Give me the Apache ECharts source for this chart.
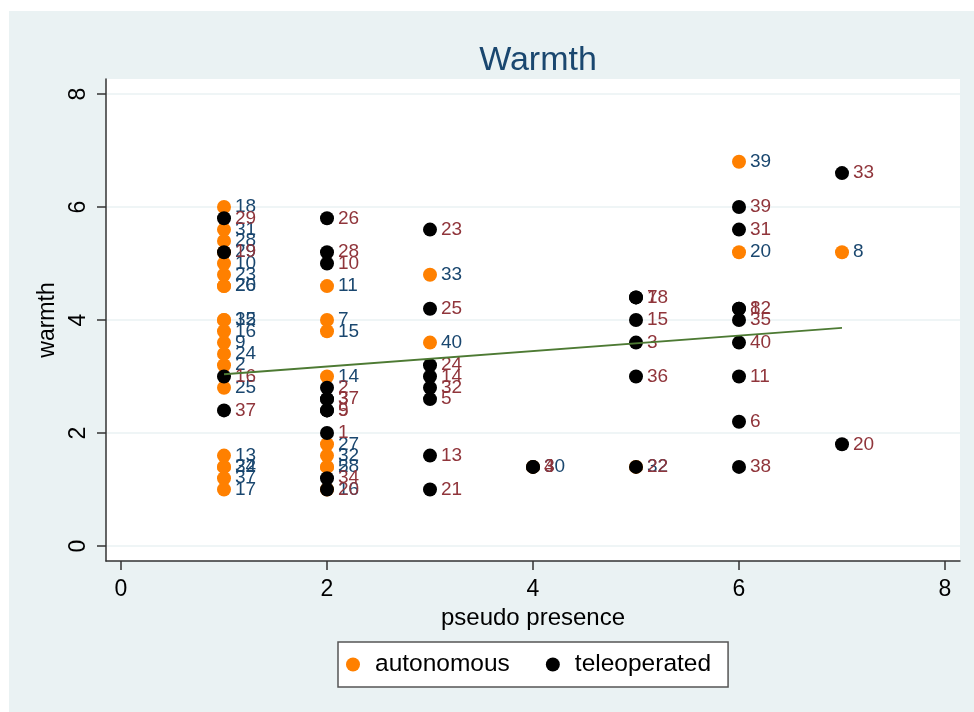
<!DOCTYPE html>
<html>
<head>
<meta charset="utf-8">
<script src="https://cdn.jsdelivr.net/npm/echarts@6/dist/echarts.min.js"></script>
<style>
html,body{margin:0;padding:0;background:#ffffff;}
#chart{width:974px;height:712px;}
</style>
</head>
<body>
<div id="chart"></div>
<script>
// ---- data ----
var titleText = 'Warmth';
var xTitle = 'pseudo presence';
var yTitle = 'warmth';
var xTicks = [0, 2, 4, 6, 8];
var yTicks = [0, 2, 4, 6, 8];
var seriesNames = ['autonomous', 'teleoperated'];

// [x, y, label]
var autonomousPoints = [
  [1, 6.0, '18'], [1, 5.6, '31'], [1, 5.4, '28'], [1, 5.2, '29'], [1, 5.0, '10'],
  [1, 4.8, '23'], [1, 4.6, '26'], [1, 4.6, '20'], [1, 4.0, '35'], [1, 4.0, '12'],
  [1, 3.8, '16'], [1, 3.6, '9'], [1, 3.4, '24'], [1, 3.2, '2'], [1, 2.8, '25'],
  [1, 1.6, '13'], [1, 1.4, '22'], [1, 1.4, '34'], [1, 1.2, '37'], [1, 1.0, '17'],
  [2, 4.6, '11'], [2, 4.0, '7'], [2, 3.8, '15'], [2, 3.0, '14'], [2, 1.8, '27'],
  [2, 1.6, '32'], [2, 1.4, '28'], [2, 1.4, '5'], [2, 1.0, '16'],
  [3, 4.8, '33'], [3, 3.6, '40'],
  [4, 1.4, '30'],
  [5, 1.4, '32'],
  [6, 6.8, '39'], [6, 5.2, '20'],
  [7, 5.2, '8']
];
var teleoperatedPoints = [
  [1, 5.8, '29'], [1, 5.2, '19'], [1, 3.0, '16'], [1, 2.4, '37'],
  [2, 5.8, '26'], [2, 5.2, '28'], [2, 5.0, '10'], [2, 2.8, '2'], [2, 2.6, '37'],
  [2, 2.6, '3'], [2, 2.4, '5'], [2, 2.4, '9'], [2, 2.0, '1'], [2, 1.2, '34'], [2, 1.0, '20'],
  [3, 5.6, '23'], [3, 4.2, '25'], [3, 3.2, '24'], [3, 3.0, '14'], [3, 2.8, '32'],
  [3, 2.6, '5'], [3, 1.6, '13'], [3, 1.0, '21'],
  [4, 1.4, '4'], [4, 1.4, '3'],
  [5, 4.4, '7'], [5, 4.4, '18'], [5, 4.0, '15'], [5, 3.6, '3'], [5, 3.0, '36'], [5, 1.4, '22'],
  [6, 6.0, '39'], [6, 5.6, '31'], [6, 4.2, '8'], [6, 4.2, '12'], [6, 4.0, '35'],
  [6, 3.6, '40'], [6, 3.0, '11'], [6, 2.2, '6'], [6, 1.4, '38'],
  [7, 6.6, '33'], [7, 1.8, '20']
];
// linear fit endpoints
var fitX = [1, 7];
var fitY = [3.04, 3.86];

// ---- chart ----
var FONT = '"Liberation Sans", Arial, sans-serif';
var chart = echarts.init(document.getElementById('chart'), null, {renderer: 'canvas'});

function labelSeries(name, pts, color, labelColor) {
  return {
    name: name,
    type: 'scatter',
    symbol: 'circle',
    symbolSize: 14,
    itemStyle: {color: color, opacity: 1},
    data: pts.map(function (p) { return {value: [p[0], p[1]], name: p[2]}; }),
    label: {
      show: true,
      position: 'right',
      distance: 4,
      formatter: function (d) { return d.name; },
      color: labelColor,
      fontSize: 19,
      fontFamily: FONT
    },
    labelLayout: {hideOverlap: false},
    emphasis: {disabled: true}
  };
}

var pad = 15 / 103;
var padY = 15 / 56.5;

var option = {
  animation: false,
  backgroundColor: 'transparent',
  graphic: [{
    type: 'rect',
    z: -100,
    silent: true,
    shape: {x: 9, y: 11, width: 965, height: 701},
    style: {fill: '#eaf2f3'}
  }],
  title: {
    text: titleText,
    left: 533,
    top: 39,
    textAlign: 'center',
    textStyle: {color: '#1a476f', fontSize: 34, fontWeight: 'normal', fontFamily: FONT}
  },
  legend: {
    data: seriesNames,
    left: 338,
    top: 642,
    orient: 'horizontal',
    backgroundColor: '#ffffff',
    borderColor: '#555555',
    borderWidth: 1.5,
    borderRadius: 0,
    padding: [10, 17, 10, 8],
    itemGap: 36,
    itemWidth: 14,
    itemHeight: 14,
    icon: 'circle',
    textStyle: {color: '#000000', fontSize: 24.5, fontFamily: FONT, padding: [0, 0, 0, 10]}
  },
  grid: {
    left: 106, right: 14, top: 79, bottom: 151,
    show: true,
    backgroundColor: '#ffffff',
    borderWidth: 0,
    containLabel: false
  },
  xAxis: {
    type: 'value',
    min: -pad, max: 8 + pad,
    name: xTitle,
    nameLocation: 'middle',
    nameGap: 41,
    nameTextStyle: {color: '#000000', fontSize: 24, fontFamily: FONT},
    axisLine: {show: true, onZero: false, lineStyle: {color: '#333333', width: 1.5}},
    axisTick: {show: true, length: 9, customValues: xTicks, lineStyle: {color: '#333333', width: 1.5}},
    axisLabel: {show: true, customValues: xTicks, margin: 17, color: '#000000', fontSize: 23, fontFamily: FONT},
    splitLine: {show: false}
  },
  yAxis: {
    type: 'value',
    min: -padY, max: 8 + padY,
    name: yTitle,
    nameLocation: 'middle',
    nameRotate: 90,
    nameGap: 31,
    nameTextStyle: {color: '#000000', fontSize: 23, fontFamily: FONT},
    axisLine: {show: true, onZero: false, lineStyle: {color: '#333333', width: 1.5}},
    axisTick: {show: true, length: 9, customValues: yTicks, lineStyle: {color: '#333333', width: 1.5}},
    axisLabel: {show: true, customValues: yTicks, rotate: 90, margin: 16, color: '#000000', fontSize: 23, fontFamily: FONT},
    splitLine: {show: true, lineStyle: {color: '#eaf2f3', width: 1.5}}
  },
  series: [
    labelSeries(seriesNames[0], autonomousPoints, '#ff8000', '#1a476f'),
    labelSeries(seriesNames[1], teleoperatedPoints, '#000000', '#90353b'),
    {
      name: 'fit',
      type: 'line',
      data: fitX.map(function (x, i) { return [x, fitY[i]]; }),
      showSymbol: false,
      symbol: 'none',
      lineStyle: {color: '#4d7a33', width: 1.8},
      itemStyle: {color: '#4d7a33'},
      z: 5,
      silent: true
    }
  ]
};
chart.setOption(option);
</script>
</body>
</html>
